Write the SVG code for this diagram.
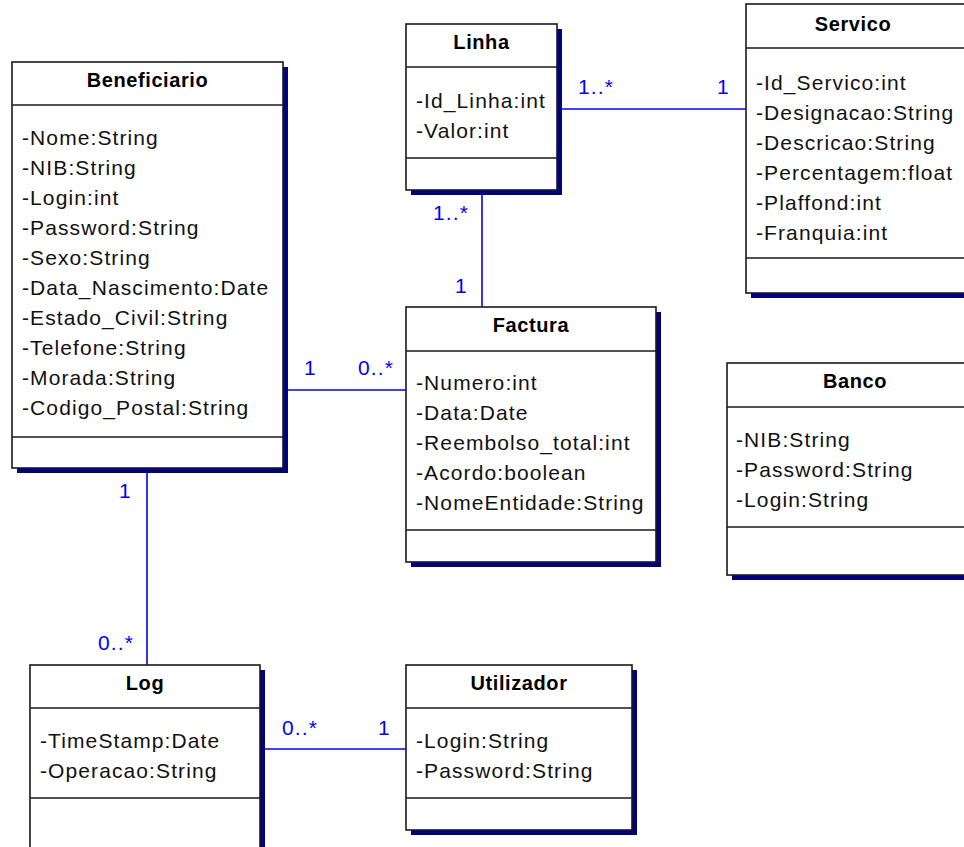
<svg xmlns="http://www.w3.org/2000/svg" width="964" height="847" viewBox="0 0 964 847">
<style>
.sh{fill:#000080}
.bx{fill:#fff;stroke:#1a1a1a;stroke-width:1.6}
.sep{stroke:#1a1a1a;stroke-width:1.6}
.t{font-family:"Liberation Sans",Arial,sans-serif;font-size:20px;font-weight:bold;text-anchor:middle;fill:#000;letter-spacing:0.6px}
.a{font-family:"Liberation Sans",Arial,sans-serif;font-size:21px;fill:#111;letter-spacing:1.1px}
.c{stroke:#0000ff;stroke-width:1.6;fill:none}
.m{font-family:"Liberation Sans",Arial,sans-serif;font-size:21px;fill:#0000ff;letter-spacing:1.1px}
</style>
<rect width="964" height="847" fill="#fff"/>
<g id="connectors">
<line class="c" x1="557" y1="109" x2="746" y2="109"/>
<line class="c" x1="482" y1="190" x2="482" y2="307"/>
<line class="c" x1="283" y1="390" x2="406" y2="390"/>
<line class="c" x1="147" y1="468" x2="147" y2="665"/>
<line class="c" x1="260" y1="749" x2="406" y2="749"/>
<text class="m" x="578" y="94">1..*</text>
<text class="m" x="717" y="94">1</text>
<text class="m" x="433" y="220">1..*</text>
<text class="m" x="455" y="293">1</text>
<text class="m" x="304" y="375">1</text>
<text class="m" x="358" y="375">0..*</text>
<text class="m" x="119" y="498">1</text>
<text class="m" x="98" y="650">0..*</text>
<text class="m" x="282" y="735">0..*</text>
<text class="m" x="378" y="735">1</text>
</g>
<g id="Beneficiario">
<rect class="sh" x="17" y="67" width="271" height="406"/>
<rect class="bx" x="12" y="62" width="271" height="406"/>
<line class="sep" x1="12" y1="105" x2="283" y2="105"/>
<line class="sep" x1="12" y1="437" x2="283" y2="437"/>
<text class="t" x="147.5" y="87">Beneficiario</text>
<text class="a" x="22" y="145">-Nome:String</text>
<text class="a" x="22" y="175">-NIB:String</text>
<text class="a" x="22" y="205">-Login:int</text>
<text class="a" x="22" y="235">-Password:String</text>
<text class="a" x="22" y="265">-Sexo:String</text>
<text class="a" x="22" y="295">-Data_Nascimento:Date</text>
<text class="a" x="22" y="325">-Estado_Civil:String</text>
<text class="a" x="22" y="355">-Telefone:String</text>
<text class="a" x="22" y="385">-Morada:String</text>
<text class="a" x="22" y="415">-Codigo_Postal:String</text>
</g>
<g id="Linha">
<rect class="sh" x="411" y="29" width="151" height="166"/>
<rect class="bx" x="406" y="24" width="151" height="166"/>
<line class="sep" x1="406" y1="67" x2="557" y2="67"/>
<line class="sep" x1="406" y1="158" x2="557" y2="158"/>
<text class="t" x="481.5" y="49">Linha</text>
<text class="a" x="416" y="108">-Id_Linha:int</text>
<text class="a" x="416" y="138">-Valor:int</text>
</g>
<g id="Servico">
<rect class="sh" x="751" y="9" width="230" height="289"/>
<rect class="bx" x="746" y="4" width="230" height="289"/>
<line class="sep" x1="746" y1="48" x2="976" y2="48"/>
<line class="sep" x1="746" y1="258" x2="976" y2="258"/>
<text class="t" x="853" y="31">Servico</text>
<text class="a" x="756" y="90">-Id_Servico:int</text>
<text class="a" x="756" y="120">-Designacao:String</text>
<text class="a" x="756" y="150">-Descricao:String</text>
<text class="a" x="756" y="180">-Percentagem:float</text>
<text class="a" x="756" y="210">-Plaffond:int</text>
<text class="a" x="756" y="240">-Franquia:int</text>
</g>
<g id="Factura">
<rect class="sh" x="411" y="312" width="250" height="255"/>
<rect class="bx" x="406" y="307" width="250" height="255"/>
<line class="sep" x1="406" y1="351" x2="656" y2="351"/>
<line class="sep" x1="406" y1="530" x2="656" y2="530"/>
<text class="t" x="531" y="332">Factura</text>
<text class="a" x="416" y="390">-Numero:int</text>
<text class="a" x="416" y="420">-Data:Date</text>
<text class="a" x="416" y="450">-Reembolso_total:int</text>
<text class="a" x="416" y="480">-Acordo:boolean</text>
<text class="a" x="416" y="510">-NomeEntidade:String</text>
</g>
<g id="Banco">
<rect class="sh" x="732" y="368" width="250" height="212"/>
<rect class="bx" x="727" y="363" width="250" height="212"/>
<line class="sep" x1="727" y1="407" x2="977" y2="407"/>
<line class="sep" x1="727" y1="527" x2="977" y2="527"/>
<text class="t" x="855" y="388">Banco</text>
<text class="a" x="736" y="447">-NIB:String</text>
<text class="a" x="736" y="477">-Password:String</text>
<text class="a" x="736" y="507">-Login:String</text>
</g>
<g id="Log">
<rect class="sh" x="35" y="670" width="230" height="200"/>
<rect class="bx" x="30" y="665" width="230" height="200"/>
<line class="sep" x1="30" y1="708" x2="260" y2="708"/>
<line class="sep" x1="30" y1="798" x2="260" y2="798"/>
<text class="t" x="145" y="690">Log</text>
<text class="a" x="40" y="748">-TimeStamp:Date</text>
<text class="a" x="40" y="778">-Operacao:String</text>
</g>
<g id="Utilizador">
<rect class="sh" x="411" y="670" width="226" height="165"/>
<rect class="bx" x="406" y="665" width="226" height="165"/>
<line class="sep" x1="406" y1="708" x2="632" y2="708"/>
<line class="sep" x1="406" y1="798" x2="632" y2="798"/>
<text class="t" x="519" y="690">Utilizador</text>
<text class="a" x="416" y="748">-Login:String</text>
<text class="a" x="416" y="778">-Password:String</text>
</g>
</svg>
